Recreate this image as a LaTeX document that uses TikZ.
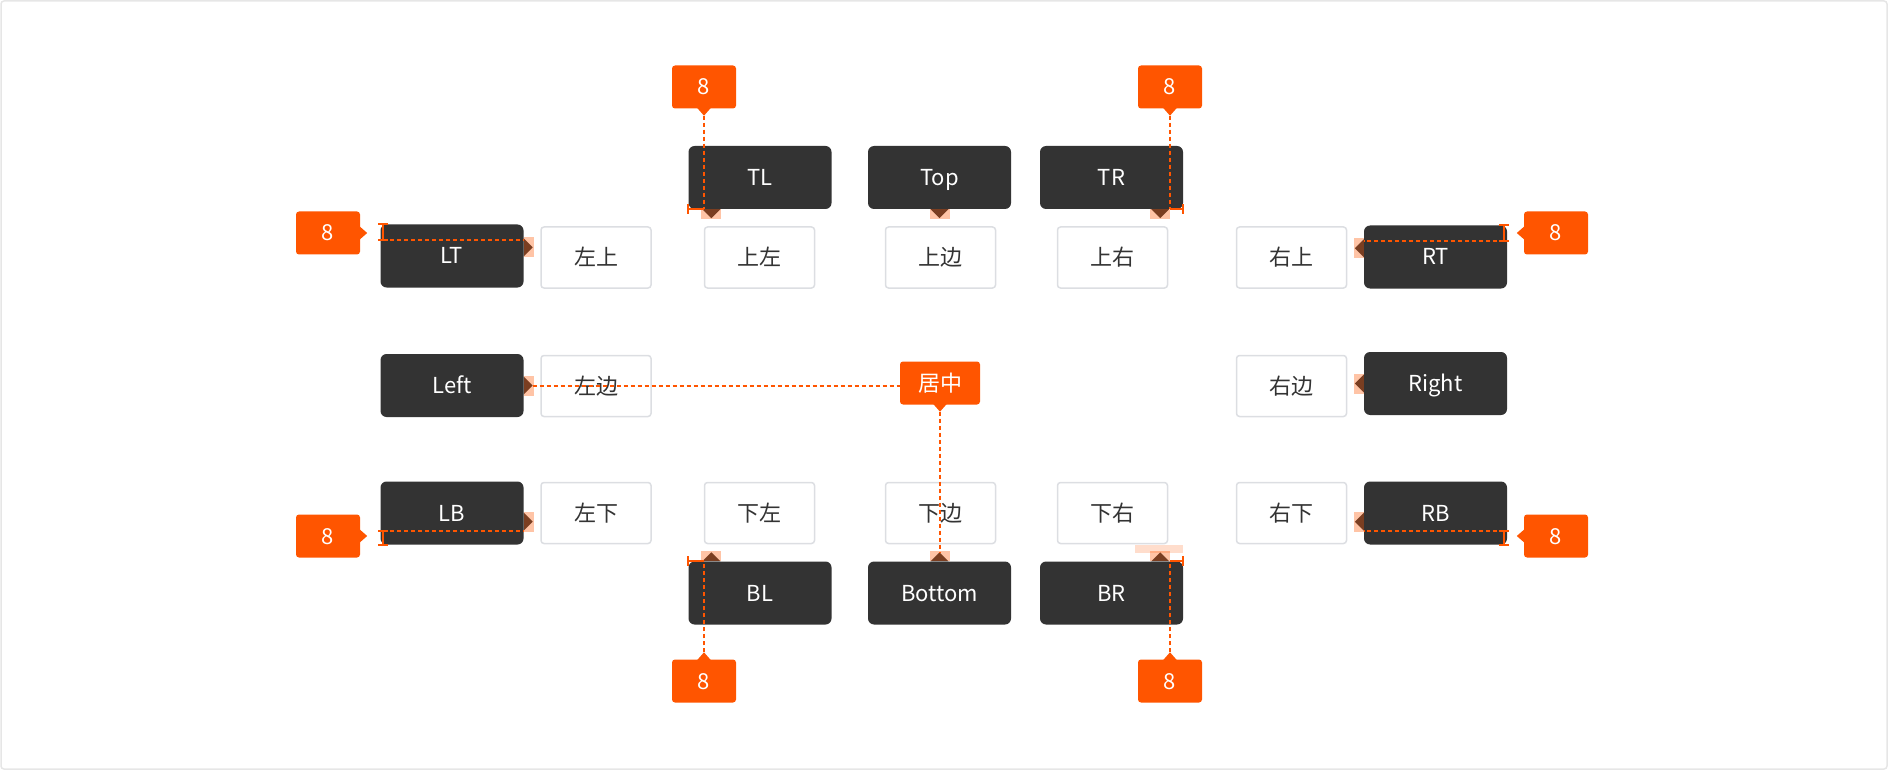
\documentclass[tikz,border=0pt]{standalone}
\usepackage{fontspec}
\setmainfont{Noto Sans CJK SC}
\usepackage{xcolor}
\usepackage{tikz}
\usetikzlibrary{calc}

\definecolor{tipbg}{HTML}{333333}
\definecolor{accent}{HTML}{FF5500}
\definecolor{cellline}{HTML}{DCDEE2}
\definecolor{celltext}{HTML}{333333}
\definecolor{framegray}{HTML}{E6E6E6}
\newcommand\lbl{\fontsize{22}{26}\selectfont}

\begin{document}
\begin{tikzpicture}[x=1pt, y=-1pt,
    every node/.style={text height=16pt, text depth=0pt},
    tipbox/.style={fill=tipbg, rounded corners=6pt, minimum width=143pt, minimum height=63pt, text=white, font=\lbl, inner sep=0pt},
    cell/.style={draw=cellline, line width=1.5pt, fill=white, rounded corners=3pt, minimum width=110pt, minimum height=61pt, text=celltext, font=\lbl, inner sep=0pt},
    badge/.style={fill=accent, rounded corners=3pt, minimum width=#1, minimum height=43pt, text=white, font=\lbl, inner sep=0pt},
    badge/.default=64pt,
    guide/.style={draw=accent, line width=2pt, dash pattern=on 4pt off 3pt},
    bracket/.style={draw=accent, line width=2pt},
    hilite/.style={fill=accent, opacity=0.35},
]
\useasboundingbox (0,0) rectangle (1888,770);
\draw[framegray, line width=1.5pt, rounded corners=3pt] (1,1) rectangle (1887,769);

% tooltips
\node[tipbox] (TL) at (760, 177.5) {TL};
\node[tipbox] (Top) at (939.5, 177.5) {Top};
\node[tipbox] (TR) at (1111.5, 177.5) {TR};
\node[tipbox] (LT) at (452, 256) {LT};
\node[tipbox] (RT) at (1435.5, 257) {RT};
\node[tipbox] (Left) at (452, 385.5) {Left};
\node[tipbox] (Right) at (1435.5, 383.5) {Right};
\node[tipbox] (LB) at (452, 513) {LB};
\node[tipbox] (RB) at (1435.5, 513) {RB};
\node[tipbox] (BL) at (760, 593) {BL};
\node[tipbox] (Bottom) at (939.5, 593) {Bottom};
\node[tipbox] (BR) at (1111.5, 593) {BR};

% trigger cells
\node[cell] (cLT) at (596, 257.5) {左上};
\node[cell] (cTL) at (759.5, 257.5) {上左};
\node[cell] (cTop) at (940.5, 257.5) {上边};
\node[cell] (cTR) at (1112.5, 257.5) {上右};
\node[cell] (cRT) at (1291.5, 257.5) {右上};
\node[cell] (cLeft) at (596, 386) {左边};
\node[cell] (cRight) at (1291.5, 386) {右边};
\node[cell] (cLB) at (596, 513) {左下};
\node[cell] (cBL) at (759.5, 513) {下左};
\node[cell] (cBottom) at (940.5, 513) {下边};
\node[cell] (cBR) at (1112.5, 513) {下右};
\node[cell] (cRB) at (1291.5, 513) {右下};

% tooltip arrows
\coordinate (aTL) at ($(TL.south west)+(23,0)$);
\coordinate (aTR) at ($(TR.south east)+(-23,0)$);
\coordinate (aBL) at ($(BL.north west)+(23,0)$);
\coordinate (aBR) at ($(BR.north east)+(-23,0)$);
\coordinate (aLT) at ($(LT.north east)+(0,23)$);
\coordinate (aLB) at ($(LB.south east)+(0,-23)$);
\coordinate (aRT) at ($(RT.north west)+(0,23)$);
\coordinate (aRB) at ($(RB.south west)+(0,-23)$);
\foreach \a in {aTL,Top.south,aTR} {
  \fill[tipbg] ($(\a)+(-9,0)$) -- ($(\a)+(9,0)$) -- ($(\a)+(0,9)$) -- cycle;
  \fill[hilite] ($(\a)+(-10,0)$) rectangle ($(\a)+(10,10)$);
}
\foreach \a in {aBL,Bottom.north,aBR} {
  \fill[tipbg] ($(\a)+(-9,0)$) -- ($(\a)+(9,0)$) -- ($(\a)+(0,-9)$) -- cycle;
  \fill[hilite] ($(\a)+(-10,-10)$) rectangle ($(\a)+(10,0)$);
}
\foreach \a in {aLT,Left.east,aLB} {
  \fill[tipbg] ($(\a)+(0,-9)$) -- ($(\a)+(0,9)$) -- ($(\a)+(9,0)$) -- cycle;
  \fill[hilite] ($(\a)+(0,-10)$) rectangle ($(\a)+(10,10)$);
}
\foreach \a in {aRT,Right.west,aRB} {
  \fill[tipbg] ($(\a)+(0,-9)$) -- ($(\a)+(0,9)$) -- ($(\a)+(-9,0)$) -- cycle;
  \fill[hilite] ($(\a)+(-10,-10)$) rectangle ($(\a)+(0,10)$);
}
\fill[accent, opacity=0.2] ($(BR.north east)+(-48,-16)$) rectangle ($(BR.north east)+(0,-8)$);

% size badges
\node[badge] (nTL) at (704, 87) {8};
\node[badge] (nTR) at (1170, 87) {8};
\node[badge] (nLT) at (328, 233) {8};
\node[badge] (nLB) at (328, 536) {8};
\node[badge] (nRT) at (1556, 233) {8};
\node[badge] (nRB) at (1556, 536) {8};
\node[badge] (nBL) at (704, 681) {8};
\node[badge] (nBR) at (1170, 681) {8};
\node[badge=80pt] (mid) at (940, 383) {居中};
\foreach \b in {nTL,nTR,mid}
  \fill[accent] ($(\b.south)+(-7,-1)$) -- ($(\b.south)+(7,-1)$) -- ($(\b.south)+(0,7)$) -- cycle;
\foreach \b in {nBL,nBR}
  \fill[accent] ($(\b.north)+(-7,1)$) -- ($(\b.north)+(7,1)$) -- ($(\b.north)+(0,-7)$) -- cycle;
\foreach \b in {nLT,nLB}
  \fill[accent] ($(\b.east)+(-1,-7)$) -- ($(\b.east)+(-1,7)$) -- ($(\b.east)+(7,0)$) -- cycle;
\foreach \b in {nRT,nRB}
  \fill[accent] ($(\b.west)+(1,-7)$) -- ($(\b.west)+(1,7)$) -- ($(\b.west)+(-7,0)$) -- cycle;

% spacing guides
\coordinate (gTL) at ($(nTL.south)+(0,7)$);
\draw[guide] (gTL) -- (gTL |- TL.south);
\draw[bracket] (TL.south west) -- (gTL |- TL.south);
\draw[bracket] ($(TL.south west)+(0,-5)$) -- ($(TL.south west)+(0,5)$);

\coordinate (gTR) at ($(nTR.south)+(0,7)$);
\draw[guide] (gTR) -- (gTR |- TR.south);
\draw[bracket] (TR.south east) -- (gTR |- TR.south);
\draw[bracket] ($(TR.south east)+(0,-5)$) -- ($(TR.south east)+(0,5)$);

\coordinate (gBL) at ($(nBL.north)+(0,-7)$);
\draw[guide] (gBL) -- (gBL |- BL.north);
\draw[bracket] (BL.north west) -- (gBL |- BL.north);
\draw[bracket] ($(BL.north west)+(0,-5)$) -- ($(BL.north west)+(0,5)$);

\coordinate (gBR) at ($(nBR.north)+(0,-7)$);
\draw[guide] (gBR) -- (gBR |- BR.north);
\draw[bracket] (BR.north east) -- (gBR |- BR.north);
\draw[bracket] ($(BR.north east)+(0,-5)$) -- ($(BR.north east)+(0,5)$);

\coordinate (gLT) at ($(LT.north west)+(3,16)$);
\draw[guide] (gLT) -- (gLT -| aLT);
\draw[bracket] (gLT) -- (gLT |- LT.north);
\draw[bracket] ($(gLT)+(-5,0)$) -- ($(gLT)+(5,0)$);
\draw[bracket] ($(gLT |- LT.north)+(-5,0)$) -- ($(gLT |- LT.north)+(5,0)$);

\coordinate (gLB) at ($(LB.south west)+(3,-14)$);
\draw[guide] (gLB) -- (gLB -| aLB);
\draw[bracket] (gLB) -- (gLB |- LB.south);
\draw[bracket] ($(gLB)+(-5,0)$) -- ($(gLB)+(5,0)$);
\draw[bracket] ($(gLB |- LB.south)+(-5,0)$) -- ($(gLB |- LB.south)+(5,0)$);

\coordinate (gRT) at ($(RT.north east)+(-3,16)$);
\draw[guide] (gRT) -- (gRT -| aRT);
\draw[bracket] (gRT) -- (gRT |- RT.north);
\draw[bracket] ($(gRT)+(-5,0)$) -- ($(gRT)+(5,0)$);
\draw[bracket] ($(gRT |- RT.north)+(-5,0)$) -- ($(gRT |- RT.north)+(5,0)$);

\coordinate (gRB) at ($(RB.south east)+(-3,-14)$);
\draw[guide] (gRB) -- (gRB -| aRB);
\draw[bracket] (gRB) -- (gRB |- RB.south);
\draw[bracket] ($(gRB)+(-5,0)$) -- ($(gRB)+(5,0)$);
\draw[bracket] ($(gRB |- RB.south)+(-5,0)$) -- ($(gRB |- RB.south)+(5,0)$);

% centre guides
\coordinate (gLeft) at ($(Left.east)+(9,0)$);
\draw[guide] (gLeft) -- (gLeft -| mid.west);
\coordinate (gMid) at ($(mid.south)+(0,7)$);
\draw[guide] (gMid) -- ($(gMid |- Bottom.north)+(0,-9)$);
\end{tikzpicture}
\end{document}
